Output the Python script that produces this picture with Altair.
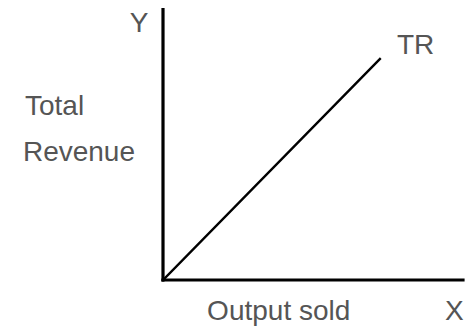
import altair as alt
import pandas as pd

# Data (units: output / revenue, origin at 0,0)
axis_x = [0, 100]          # X axis extent (output)
axis_y = [0, 90.7]         # Y axis extent (revenue)
tr_output = [0, 72.3]
tr_revenue = [0, 73.7]

label_text = ["Y", "TR", "Total", "Revenue", "Output sold", "X"]
label_x = [-8.0, 78.0, -46.0, -46.7, 14.7, 94.0]
label_y = [85.2, 78.0, 57.7, 42.3, -10.8, -10.6]
label_align = ["center", "left", "left", "left", "left", "left"]

xs = alt.Scale(domain=[-51.67, 100.67], nice=False, zero=False)
ys = alt.Scale(domain=[-15.0, 86.0], nice=False, zero=False)

lines = pd.DataFrame({
    "x": [axis_x[0], axis_x[1], 0, 0, tr_output[0], tr_output[1]],
    "y": [0, 0, axis_y[0], axis_y[1], tr_revenue[0], tr_revenue[1]],
    "g": ["xaxis", "xaxis", "yaxis", "yaxis", "tr", "tr"],
    "w": [3.2, 3.2, 3.2, 3.2, 2.4, 2.4],
})

labels = pd.DataFrame({"t": label_text, "x": label_x, "y": label_y, "a": label_align})

FONT = "Liberation Sans"

line_layer = alt.Chart(lines).mark_line(color="black", clip=False, strokeCap="square").encode(
    x=alt.X("x:Q", scale=xs, axis=None),
    y=alt.Y("y:Q", scale=ys, axis=None),
    detail="g:N",
    strokeWidth=alt.StrokeWidth("w:Q", scale=None, legend=None),
)

text_left = alt.Chart(labels[labels.a == "left"]).mark_text(
    align="left", baseline="middle", font=FONT, fontSize=28, color="#555555"
).encode(
    x=alt.X("x:Q", scale=xs, axis=None),
    y=alt.Y("y:Q", scale=ys, axis=None),
    text="t:N",
)
text_center = alt.Chart(labels[labels.a == "center"]).mark_text(
    align="center", baseline="middle", font=FONT, fontSize=28, color="#555555"
).encode(
    x=alt.X("x:Q", scale=xs, axis=None),
    y=alt.Y("y:Q", scale=ys, axis=None),
    text="t:N",
)

chart = alt.layer(line_layer, text_left, text_center).properties(
    width=457, height=303,
    padding={"top": 14, "left": 0, "right": 0, "bottom": 8},
    autosize=alt.AutoSizeParams(type="none"),
).configure_view(stroke=None)

chart.save("out.html", embed_options={"renderer": "svg", "actions": False})
